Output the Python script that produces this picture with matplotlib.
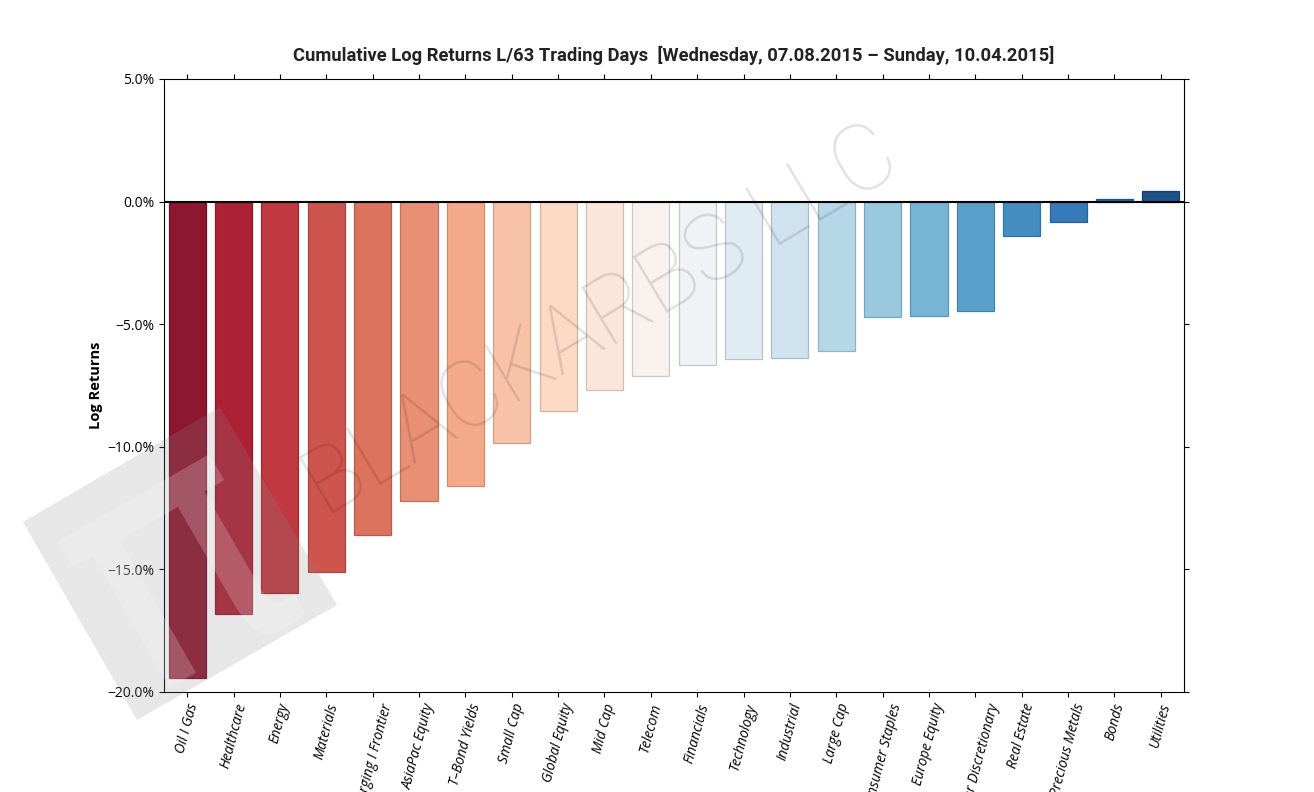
import numpy as np
import matplotlib.pyplot as plt
from matplotlib.patches import Polygon
from matplotlib.ticker import FuncFormatter

sectors = [
    "Oil I Gas", "Healthcare", "Energy", "Materials", "Emerging I Frontier",
    "AsiaPac Equity", "T\u2013Bond Yields", "Small Cap", "Global Equity", "Mid Cap",
    "Telecom", "Financials", "Technology", "Industrial", "Large Cap",
    "Consumer Staples", "Europe Equity", "Consumer Discretionary", "Real Estate",
    "Precious Metals", "Bonds", "Utilities",
]
log_returns = [
    -19.45, -16.84, -15.95, -15.09, -13.58,
    -12.23, -11.58, -9.83, -8.56, -7.67,
    -7.10, -6.65, -6.44, -6.40, -6.08,
    -4.69, -4.65, -4.45, -1.39,
    -0.82, 0.12, 0.45,
]

plt.rcParams['font.family'] = ['Open Sans', 'DejaVu Sans']

W, H = 1314, 792
fig = plt.figure(figsize=(W / 100, H / 100), dpi=100)
ax = fig.add_axes([0.1248, 0.1263, 0.7763, 0.774])

n = len(sectors)
cmap = plt.get_cmap("RdBu")
colors = cmap(np.linspace(0, 1, n + 2)[1:-1])
edges = colors.copy()
edges[:, :3] *= 0.82
x = np.arange(n)
ax.bar(x, log_returns, width=0.8, color=colors, edgecolor=edges, linewidth=0.9, alpha=0.95, zorder=2)
ax.axhline(0, color="black", linewidth=1.5, zorder=3)

ax.set_xlim(-0.5, n - 0.5)
ax.set_ylim(-20, 5)
ax.set_yticks(np.arange(-20, 5.1, 5))
ax.yaxis.set_major_formatter(FuncFormatter(lambda v, p: f"{v:.1f}%".replace("-", "\u2212")))
ax.set_xticks(x)
ax.set_xticklabels(sectors, rotation=75, fontstyle="italic", fontsize=10)
ax.tick_params(axis="y", labelsize=10, right=True, direction="out")
ax.tick_params(axis="x", top=True, direction="out")

ax.set_ylabel("Log Returns", fontweight="bold", fontsize=10.5, labelpad=3)
ax.set_title("Cumulative Log Returns L/63 Trading Days  [Wednesday, 07.08.2015 \u2013 Sunday, 10.04.2015]",
             fontweight="bold", fontsize=13.2, pad=13, color="#222222", family=["Roboto", "DejaVu Sans"])

# watermark: grey rotated square with logo (pixel coords from top-left) + thin text
corners = [[23, 522], [220, 407], [337, 605], [137, 720]]
sq = Polygon([[cx, H - cy] for cx, cy in corners], closed=True,
             transform=None, facecolor="#8a8a8a", edgecolor="none", alpha=0.2, zorder=10)
fig.patches.append(sq)
fig.text(179 / W, 1 - 570 / H, "\u03c0", rotation=30, fontsize=240, ha="center", va="center",
         color="white", alpha=0.2, zorder=11, family=["DejaVu Sans"])
fig.text(0.458, 0.592, "BLACKARBS LLC", rotation=31, fontsize=66, ha="center", va="center",
         color="#000000", alpha=0.12, zorder=12, fontweight=100, family=["Roboto", "DejaVu Sans"])

fig.savefig("out.png", dpi=100)
